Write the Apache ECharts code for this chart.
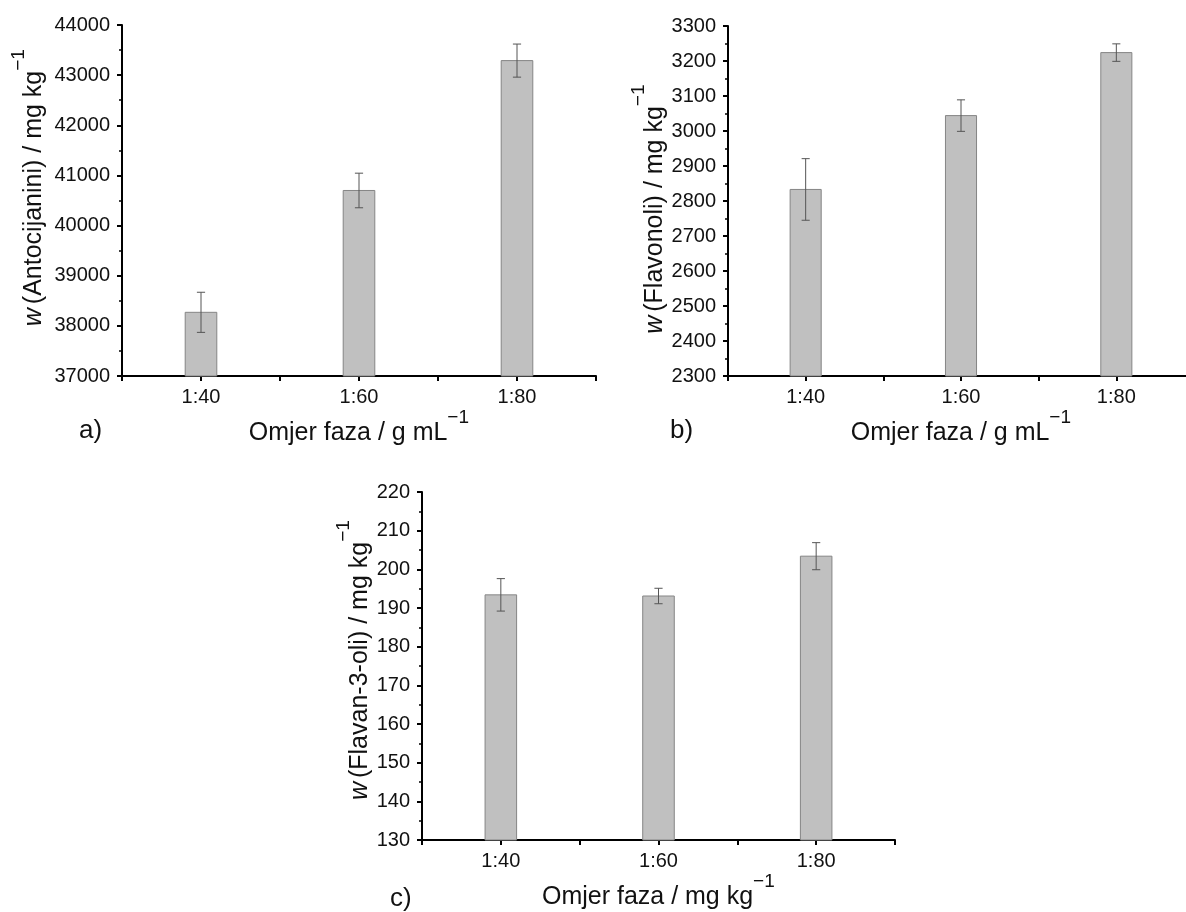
<!DOCTYPE html>
<html><head><meta charset="utf-8">
<script src="https://cdn.jsdelivr.net/npm/echarts@6/dist/echarts.min.js"></script>
<style>html,body{margin:0;padding:0;background:#fff}#c{width:1186px;height:912px}</style>
</head><body><div id="c"></div>
<script>
// ---- data ----
const categories = ['1:40', '1:60', '1:80'];
const antocijanini = [38270, 40700, 43290];
const antocijaniniErr = [400, 345, 330];
const flavonoli = [2833, 3044, 3224];
const flavonoliErr = [88, 45, 25];
const flavan3oli = [193.4, 193.1, 203.4];
const flavan3oliErr = [4.2, 2.0, 3.5];
const yRangeA = [37000, 44000, 1000];
const yRangeB = [2300, 3300, 100];
const yRangeC = [130, 220, 10];

// ---- style ----
const FONT = "'Liberation Sans', Arial, Helvetica, sans-serif";
const BAR_W = 0.2, CAP_W = 0.052;
const titleRich = {
  i: {fontFamily: FONT, fontSize: 25, fontStyle: 'italic', lineHeight: 25, verticalAlign: 'bottom', color: '#111', padding: [0, 4, 0, 0]},
  m: {fontFamily: FONT, fontSize: 25, lineHeight: 25, verticalAlign: 'bottom', color: '#111'},
  s: {fontFamily: FONT, fontSize: 19, lineHeight: 19, verticalAlign: 'top', color: '#111'},
  sp: {fontSize: 1, lineHeight: 38}
};

function renderBar(params, api) {
  const x = api.value(0), v = api.value(1), e = api.value(2);
  const cs = params.coordSys;
  const bottom = cs.y + cs.height;
  const top = api.coord([x, v]);
  const half = api.size([BAR_W, 0])[0] / 2;
  const capHalf = api.size([CAP_W, 0])[0] / 2;
  const hi = api.coord([x, v + e]), lo = api.coord([x, v - e]);
  const es = {stroke: '#555', lineWidth: 1};
  return {type: 'group', children: [
    {type: 'rect', shape: {x: top[0] - half, y: top[1], width: half * 2, height: bottom - top[1]},
      style: {fill: '#c0c0c0', stroke: '#858585', lineWidth: 1}},
    {type: 'line', shape: {x1: hi[0], y1: hi[1], x2: lo[0], y2: lo[1]}, style: es},
    {type: 'line', shape: {x1: hi[0] - capHalf, y1: hi[1], x2: hi[0] + capHalf, y2: hi[1]}, style: es},
    {type: 'line', shape: {x1: lo[0] - capHalf, y1: lo[1], x2: lo[0] + capHalf, y2: lo[1]}, style: es}
  ]};
}

function xAxisFor(idx, name) {
  return {
    gridIndex: idx, type: 'value', min: 0.5, max: 3.5, interval: 0.5,
    axisLine: {show: true, onZero: false, lineStyle: {color: '#000', width: 2}},
    axisTick: {show: true, inside: false, length: 5, lineStyle: {color: '#000', width: 2}},
    axisLabel: {fontFamily: FONT, fontSize: 20, color: '#111', margin: 11,
      formatter: v => (Number.isInteger(v) && v >= 1 && v <= categories.length) ? categories[v - 1] : ''},
    splitLine: {show: false},
    name: name, nameLocation: 'middle', nameGap: 27,
    nameTextStyle: {rich: titleRich}
  };
}
function yAxisFor(idx, r, name, gap, pad) {
  return {
    gridIndex: idx, type: 'value', min: r[0], max: r[1], interval: r[2],
    axisLine: {show: true, lineStyle: {color: '#000', width: 2}},
    axisTick: {show: true, inside: false, length: 5, lineStyle: {color: '#000', width: 2}},
    minorTick: {show: true, splitNumber: 2, length: 3, lineStyle: {color: '#000', width: 1.5}},
    axisLabel: {fontFamily: FONT, fontSize: 20, color: '#111', margin: 12, formatter: v => String(v)},
    splitLine: {show: false}, minorSplitLine: {show: false},
    name: name, nameLocation: 'middle', nameRotate: 90, nameGap: gap,
    nameTextStyle: {rich: titleRich, padding: pad}
  };
}
function seriesFor(idx, vals, errs) {
  return {
    type: 'custom', xAxisIndex: idx, yAxisIndex: idx, renderItem: renderBar,
    data: categories.map((c, i) => [i + 1, vals[i], errs[i]]),
    silent: true, animation: false
  };
}

const xTitleG = '{m|Omjer faza / g mL}{s|\u22121}{sp| }';
const xTitleM = '{m|Omjer faza / mg kg}{s|\u22121}{sp| }';

const option = {
  backgroundColor: '#fff',
  animation: false,
  grid: [
    {left: 122, top: 25, width: 474, height: 351, outerBoundsMode: 'none', containLabel: false},
    {left: 728, top: 26, width: 466, height: 350, outerBoundsMode: 'none', containLabel: false},
    {left: 422, top: 492, width: 473, height: 348, outerBoundsMode: 'none', containLabel: false}
  ],
  xAxis: [xAxisFor(0, xTitleG), xAxisFor(1, xTitleG), xAxisFor(2, xTitleM)],
  yAxis: [
    yAxisFor(0, yRangeA, '{i|w}{m|(Antocijanini) / mg kg}{s|\u22121}{sp| }', 75, [0, 0, 0, 26]),
    yAxisFor(1, yRangeB, '{i|w}{m|(Flavonoli) / mg kg}{s|\u22121}{sp| }', 54, [0, 16, 0, 0]),
    yAxisFor(2, yRangeC, '{i|w}{m|(Flavan-3-oli) / mg kg}{s|\u22121}{sp| }', 45, [0, 0, 0, 12])
  ],
  series: [
    seriesFor(0, antocijanini, antocijaniniErr),
    seriesFor(1, flavonoli, flavonoliErr),
    seriesFor(2, flavan3oli, flavan3oliErr)
  ],
  graphic: [
    {type: 'text', left: 79, top: 418, style: {text: 'a)', font: '26px ' + FONT, fill: '#111'}},
    {type: 'text', left: 670, top: 418, style: {text: 'b)', font: '26px ' + FONT, fill: '#111'}},
    {type: 'text', left: 390, top: 886, style: {text: 'c)', font: '26px ' + FONT, fill: '#111'}}
  ]
};
const chart = echarts.init(document.getElementById('c'), null, {renderer: 'canvas'});
chart.setOption(option);
</script>
</body></html>
